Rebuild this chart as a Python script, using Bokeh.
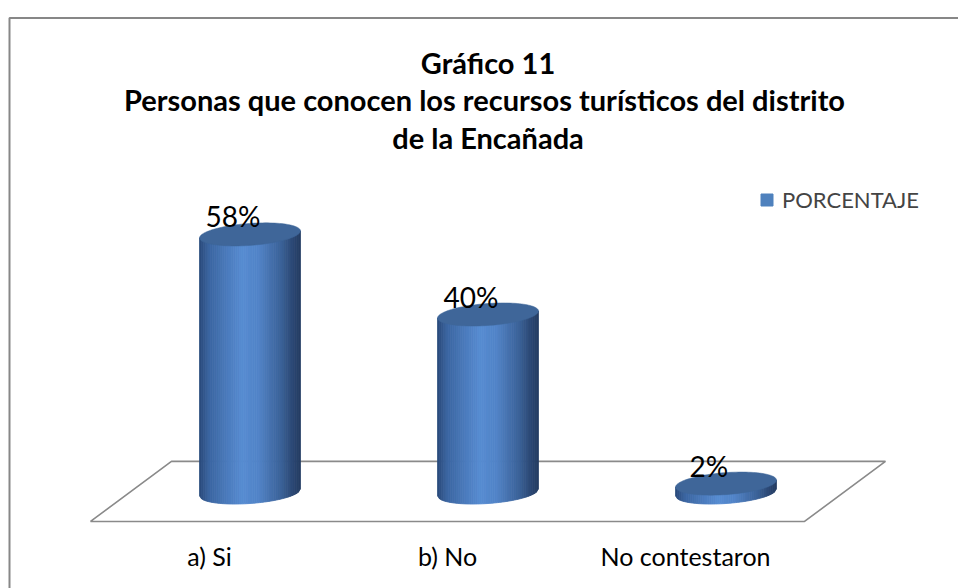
import numpy as np
from bokeh.plotting import figure
from bokeh.models import Range1d, ColumnDataSource, Legend, LegendItem
from bokeh.core.properties import value
from bokeh.embed import file_html
from bokeh.resources import INLINE

# ---------------- data ----------------
categories = ["a) Si", "b) No", "No contestaron"]
percent = [58, 40, 2]
value_labels = ["58%", "40%", "2%"]
series_name = "PORCENTAJE"
title_lines = [
    "Gráfico 11",
    "Personas que  conocen los recursos turísticos del distrito",
    "de la Encañada",
]

# ---------------- layout ----------------
W, H = 958, 588
CAT_PX = 238.0          # pixels per category
CAT0_X = 249.5          # canvas x of first category centre
PCT_PX = 4.45           # pixels per percent
ZERO_Y = 492.0          # canvas y of value 0
TEXT_DY = 10.0          # baseline correction for text glyphs

def X(cx):
    return (cx - CAT0_X) / CAT_PX

def Y(cy):
    return (ZERO_Y - cy) / PCT_PX

x_range = Range1d(X(0), X(W))
y_range = Range1d(Y(H), Y(0))

FONT = "Lato"
BLUE = "#4f81bd"
CAP = "#3f6699"
GRID = "#8a8a8a"

p = figure(width=W, height=H, x_range=x_range, y_range=y_range,
           output_backend="svg", toolbar_location=None,
           x_axis_location=None, y_axis_location=None,
           min_border=0, outline_line_color=None)
p.xgrid.visible = False
p.ygrid.visible = False
p.background_fill_color = "white"
p.border_fill_color = "white"

# chart border (top and left visible)
p.line([X(9), X(9), x_range.end], [y_range.start, Y(17.5), Y(17.5)],
       line_color="#878787", line_width=2)

# ---------------- floor ----------------
n = len(categories)
shift = 0.17
depth_front, depth_back = 6.5, 7.0
floor_x = [-0.5 - shift, n - 0.5 - shift, n - 0.5 + shift, -0.5 + shift]
floor_y = [-depth_front, -depth_front, depth_back, depth_back]
p.patch(floor_x, floor_y, fill_color=None, line_color=GRID, line_width=1.6)

# ---------------- cylinders ----------------
half_w = 0.212          # category units
half_h = 11.0 / PCT_PX  # ellipse semi-axis (value units)
tilt = 3.5 / PCT_PX     # shear at the ellipse ends

stops_t = [0.0, 0.10, 0.42, 0.58, 0.82, 0.94, 1.0]
stops_c = [(42, 74, 122), (60, 102, 162), (87, 140, 210), (82, 133, 201),
           (58, 96, 150), (42, 70, 112), (36, 60, 98)]

def shade(t):
    r = np.interp(t, stops_t, [c[0] for c in stops_c])
    g = np.interp(t, stops_t, [c[1] for c in stops_c])
    b = np.interp(t, stops_t, [c[2] for c in stops_c])
    return "#%02x%02x%02x" % (int(r), int(g), int(b))

N = 48
us = np.linspace(-1, 1, N + 1)
sx, sy, sc = [], [], []
capx, capy = [], []
theta = np.linspace(0, 2 * np.pi, 120)
for i, v in enumerate(percent):
    for j in range(N):
        u0, u1 = us[j], us[j + 1]
        yb0 = -half_h * np.sqrt(max(0.0, 1 - u0 ** 2)) + tilt * u0
        yb1 = -half_h * np.sqrt(max(0.0, 1 - u1 ** 2)) + tilt * u1
        sx.append([i + half_w * u0, i + half_w * u1, i + half_w * u1, i + half_w * u0])
        sy.append([yb0, yb1, v + tilt * u1, v + tilt * u0])
        sc.append(shade((u0 + u1) / 4 + 0.5))
    capx.append(list(i + half_w * np.cos(theta)))
    capy.append(list(v + half_h * np.sin(theta) + tilt * np.cos(theta)))

body = ColumnDataSource(dict(xs=sx, ys=sy, c=sc))
p.patches("xs", "ys", source=body, fill_color="c", line_color="c", line_width=0.8)
p.patches(capx, capy, fill_color=CAP, line_color=CAP, line_width=0.5)

# ---------------- data labels ----------------
lab = ColumnDataSource(dict(x=[i - 0.072 for i in range(n)],
                            y=[v + (8.0 + TEXT_DY) / PCT_PX for v in percent],
                            t=value_labels))
p.text("x", "y", "t", source=lab, text_font=value(FONT), text_font_size="28px",
       text_align="center", text_baseline="alphabetic", text_color="black")

# ---------------- category labels ----------------
cat = ColumnDataSource(dict(x=[i - shift for i in range(n)],
                            y=[Y(565 - TEXT_DY)] * n, t=categories))
p.text("x", "y", "t", source=cat, text_font=value(FONT), text_font_size="25px",
       text_align="center", text_baseline="alphabetic", text_color="black")

# ---------------- title ----------------
tt = ColumnDataSource(dict(x=[X(487.5)] * 3,
                           y=[Y(72 - TEXT_DY), Y(109 - TEXT_DY), Y(147 - TEXT_DY)],
                           t=title_lines))
p.text("x", "y", "t", source=tt, text_font=value(FONT), text_font_size="29px",
       text_font_style="bold", text_align="center", text_baseline="alphabetic",
       text_color="black")

# ---------------- legend ----------------
# legend key renderer (its single box sits outside the visible range)
proxy = p.quad(left=[x_range.end + 1], right=[x_range.end + 2],
               top=[1], bottom=[0], fill_color=BLUE, line_color=BLUE)
legend = Legend(items=[LegendItem(label=series_name, renderers=[proxy])],
                location=(759, H - 213), orientation="vertical",
                padding=0, margin=0, spacing=0,
                glyph_width=15, glyph_height=15, label_standoff=8,
                label_text_font=FONT, label_text_font_size="22px",
                border_line_color=None, background_fill_alpha=0)
p.add_layout(legend, "center")

open("out.html", "w").write(file_html(p, INLINE))
